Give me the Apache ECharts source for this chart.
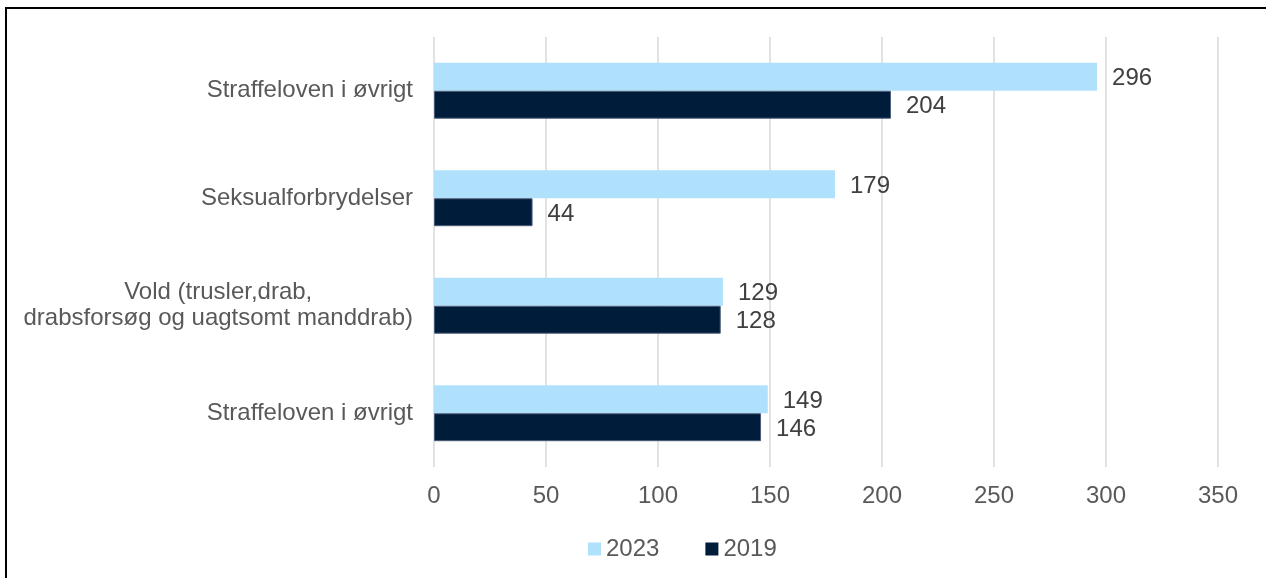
<!DOCTYPE html>
<html>
<head>
<meta charset="utf-8">
<script src="https://cdn.jsdelivr.net/npm/echarts@6/dist/echarts.min.js"></script>
<style>
  html, body { margin: 0; padding: 0; background: #fff; }
  #wrap { position: relative; width: 1266px; height: 578px; overflow: hidden; }
  #chart { width: 1266px; height: 578px; }
  /* frame of the original picture, only left and top edges are visible */
  #frame {
    position: absolute; left: 5px; top: 7px; width: 2000px; height: 2000px;
    border-left: 2px solid #000; border-top: 2px solid #000;
    pointer-events: none;
  }
</style>
</head>
<body>
<div id="wrap">
  <div id="chart"></div>
  <div id="frame"></div>
</div>
<script>
const categories = [
  'Straffeloven i øvrigt',
  'Seksualforbrydelser',
  'Vold (trusler,drab,\ndrabsforsøg og uagtsomt manddrab)',
  'Straffeloven i øvrigt'
];
const values2023 = [296, 179, 129, 149];
const values2019 = [204, 44, 128, 146];
const xTicks = [0, 350, 50]; // min, max, interval

const FONT = '"Liberation Sans", Arial, sans-serif';
const FS = 24;

const chart = echarts.init(document.getElementById('chart'));

chart.setOption({
  backgroundColor: '#fff',
  animation: false,
  textStyle: { fontFamily: FONT },
  grid: { left: 434, right: 48, top: 37, bottom: 111, containLabel: false },
  legend: {
    left: 583,
    top: 532,
    itemWidth: 13,
    itemHeight: 13,
    itemGap: 46,
    icon: 'rect',
    itemStyle: { borderWidth: 0 },
    textStyle: { fontSize: FS, color: '#595959', fontFamily: FONT },
    data: ['2023', '2019']
  },
  xAxis: {
    type: 'value',
    min: xTicks[0],
    max: xTicks[1],
    interval: xTicks[2],
    axisLine: { show: false },
    axisTick: { show: false },
    splitLine: { lineStyle: { color: '#D9D9D9', width: 1.5 } },
    axisLabel: { fontSize: FS, color: '#595959', margin: 17, fontFamily: FONT }
  },
  yAxis: {
    type: 'category',
    inverse: true,
    data: categories,
    axisLine: { show: false },
    axisTick: { show: false },
    axisLabel: {
      fontSize: FS,
      color: '#595959',
      margin: 21,
      fontFamily: FONT,
      formatter: (v) => v.split('\n').map((l) => '{c|' + l + '}').join('\n'),
      rich: {
        c: { align: 'center', fontSize: FS, color: '#595959', lineHeight: 26, fontFamily: FONT }
      }
    }
  },
  series: [
    {
      name: '2023',
      type: 'bar',
      data: values2023,
      barGap: '0%',
      barCategoryGap: '48%',
      itemStyle: { color: '#B0E1FC' },
      label: { show: true, position: 'right', distance: 15, fontSize: FS, color: '#404040', fontFamily: FONT, offset: [0, 2] }
    },
    {
      name: '2019',
      type: 'bar',
      data: values2019,
      barGap: '0%',
      barCategoryGap: '48%',
      itemStyle: { color: '#001C3B', borderColor: '#4A5D78', borderWidth: 1 },
      label: { show: true, position: 'right', distance: 15, fontSize: FS, color: '#404040', fontFamily: FONT, offset: [0, 2] }
    }
  ]
});
</script>
</body>
</html>
